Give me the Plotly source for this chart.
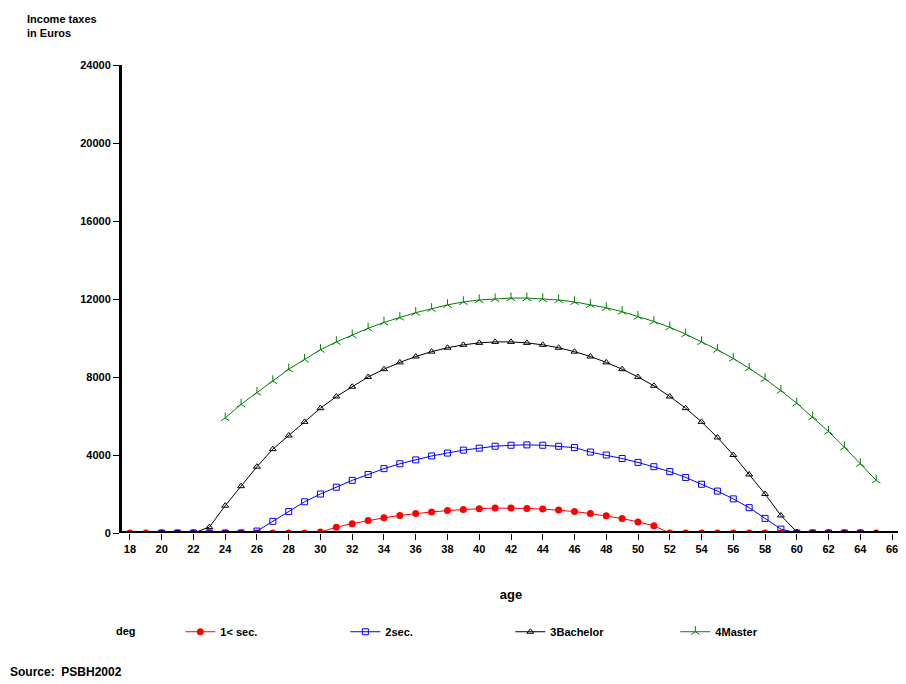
import plotly.graph_objects as go

# Données
ages_1 = list(range(18, 66))
sec_inf = [0] * 12 + [50, 300, 480, 640, 780, 900, 1000, 1080, 1150, 1210, 1250, 1280, 1280, 1260,
                     1230, 1180, 1100, 1000, 880, 740, 570, 370] + [0] * 14

ages_2 = list(range(20, 66))
sec = [0] * 6 + [100, 600, 1100, 1600, 2000, 2350, 2700, 3000, 3300, 3550, 3750, 3950, 4100, 4250,
                 4350, 4450, 4500, 4520, 4500, 4450, 4380, 4150, 4000, 3820, 3620, 3400, 3150,
                 2850, 2500, 2150, 1750, 1300, 750, 200] + [0] * 5

ages_3 = list(range(20, 66))
bachelor = [0, 0, 0, 300, 1400, 2400, 3400, 4300, 5000, 5700, 6400, 7000, 7500, 8000, 8400, 8750,
            9050, 9300, 9500, 9650, 9750, 9800, 9800, 9750, 9650, 9500, 9300, 9050, 8750, 8400, 8000,
            7550, 7000, 6400, 5700, 4900, 4000, 3000, 2000, 900, 50] + [0] * 5

ages_4 = list(range(24, 66))
master = [5900, 6600, 7200, 7800, 8400, 8900, 9400, 9800, 10150, 10500, 10800, 11050, 11300, 11500,
          11700, 11850, 11950, 12000, 12050, 12050, 12000, 11950, 11850, 11700, 11550, 11350, 11100,
          10850, 10550, 10200, 9800, 9400, 8950, 8450, 7900, 7300, 6650, 5950, 5200, 4400, 3550, 2700]

x_ticks = list(range(18, 67, 2))
y_ticks = [0, 4000, 8000, 12000, 16000, 20000, 24000]

fig = go.Figure()
fig.add_trace(go.Scatter(x=ages_1, y=sec_inf, name="1< sec.", mode="lines+markers",
                         line=dict(color="red", width=1),
                         marker=dict(symbol="circle", size=7, color="red")))
fig.add_trace(go.Scatter(x=ages_2, y=sec, name="2sec.", mode="lines+markers",
                         line=dict(color="blue", width=1),
                         marker=dict(symbol="square-open", size=6, color="blue")))
fig.add_trace(go.Scatter(x=ages_3, y=bachelor, name="3Bachelor", mode="lines+markers",
                         line=dict(color="black", width=1),
                         marker=dict(symbol="triangle-up-open", size=6, color="black")))
fig.add_trace(go.Scatter(x=ages_4, y=master, name="4Master", mode="lines+markers",
                         line=dict(color="green", width=1),
                         marker=dict(symbol="y-up-open", size=7, color="green",
                                     line=dict(width=1, color="green"))))

fig.update_layout(
    width=898, height=676,
    paper_bgcolor="white", plot_bgcolor="white",
    margin=dict(l=114, r=6, t=57, b=151, autoexpand=False),
    font=dict(family="Liberation Sans", size=11, color="black", weight="bold"),
    xaxis=dict(range=[17.5, 66.5], tickvals=x_ticks, showgrid=False, zeroline=False,
               ticks="outside", ticklen=6, tickcolor="black", showline=False,
               title=dict(text="age", standoff=35)),
    yaxis=dict(range=[0, 24000], tickvals=y_ticks, tickformat="d", showgrid=False, zeroline=False,
               showline=True, linecolor="black", linewidth=3,
               ticks="outside", ticklen=6, tickcolor="black"),
    legend=dict(orientation="h", x=0.075, xanchor="left", y=-0.18, yanchor="top",
                font=dict(size=11), traceorder="normal", entrywidth=120),
    showlegend=True,
)
# trait épais de l'axe x (ligne zéro)
fig.add_hline(y=0, line=dict(color="black", width=4))

fig.add_annotation(text="Income taxes<br>in Euros", xref="paper", yref="paper",
                   x=-0.125, y=1.115, xanchor="left", yanchor="top", showarrow=False,
                   align="left", font=dict(size=11))
fig.add_annotation(text="deg", xref="paper", yref="paper",
                   x=-0.01, y=-0.21, xanchor="left", yanchor="middle", showarrow=False,
                   font=dict(size=11))
fig.add_annotation(text="Source:  PSBH2002", xref="paper", yref="paper",
                   x=-0.146, y=-0.297, xanchor="left", yanchor="middle", showarrow=False,
                   font=dict(size=12))

fig.write_html("out.html")
